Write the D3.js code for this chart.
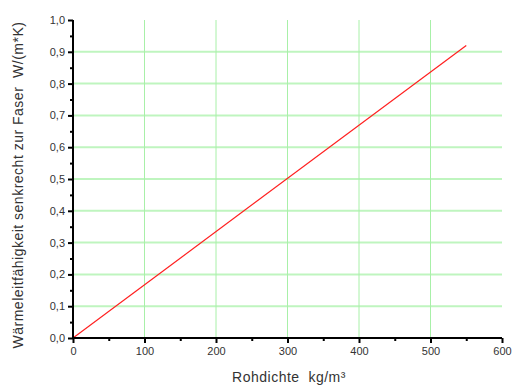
<!DOCTYPE html>
<html><head><meta charset="utf-8">
<script src="https://cdn.jsdelivr.net/npm/d3@7"></script>
<style>body{margin:0;background:#fff}text{font-family:"Liberation Sans",Arial,sans-serif}</style>
</head><body><svg id="c" width="518" height="392"></svg>
<script>
const density = [0, 550];
const conductivity = [0, 0.92];
const xTicks = [0, 100, 200, 300, 400, 500, 600];
const yTicks = [0, 0.1, 0.2, 0.3, 0.4, 0.5, 0.6, 0.7, 0.8, 0.9, 1.0];
const xTitle = "Rohdichte  kg/m³";
const yTitle = "Wärmeleitfähigkeit senkrecht zur Faser  W/(m*K)";

const svg = d3.select("#c");
const x = d3.scaleLinear().domain([0, 600]).range([73, 502]);
const y = d3.scaleLinear().domain([0, 1]).range([338, 20]);
const fmt = d => d.toFixed(1).replace(".", ",");

// grid
svg.append("g").selectAll("line").data(yTicks.filter(d => d > 0 && d < 1)).join("line")
  .attr("x1", x(0)).attr("x2", x(600)).attr("y1", d => y(d)).attr("y2", d => y(d))
  .attr("stroke", "#bff5bf").attr("stroke-width", 2);
svg.append("g").selectAll("line").data(xTicks.filter(d => d > 0 && d < 600)).join("line")
  .attr("y1", y(0)).attr("y2", y(1)).attr("x1", d => x(d)).attr("x2", d => x(d))
  .attr("stroke", "#a8f0a8").attr("stroke-width", 1);

// data line
const pts = density.map((d, i) => [d, conductivity[i]]);
svg.append("path").datum(pts)
  .attr("d", d3.line().x(d => x(d[0])).y(d => y(d[1])))
  .attr("fill", "none").attr("stroke", "#ff2020").attr("stroke-width", 1.2);

// axes
const xAxis = svg.append("g").attr("transform", `translate(0,${y(0)})`)
  .call(d3.axisBottom(x).tickValues(xTicks).tickSize(5).tickPadding(4).tickFormat(d3.format("d")));
const yAxis = svg.append("g").attr("transform", `translate(${x(0)},0)`)
  .call(d3.axisLeft(y).tickValues(yTicks).tickSize(5).tickPadding(3).tickFormat(fmt));
// minor ticks
svg.append("g").attr("transform", `translate(0,${y(0)})`)
  .call(d3.axisBottom(x).tickValues(xTicks.slice(0, -1).map(d => d + 50)).tickSize(3).tickFormat(""))
  .select(".domain").remove();
svg.append("g").attr("transform", `translate(${x(0)},0)`)
  .call(d3.axisLeft(y).tickValues(yTicks.slice(0, -1).map(d => d + 0.05)).tickSize(3).tickFormat(""))
  .select(".domain").remove();

svg.selectAll(".domain").attr("stroke", "#000").attr("stroke-width", 2);
svg.selectAll(".tick line").attr("stroke", "#000").attr("stroke-width", 2);
svg.selectAll(".tick text").attr("fill", "#333").style("font-size", "11px").style("font-family", "'Liberation Sans',Arial,sans-serif");
xAxis.selectAll(".domain").attr("d", `M${x(0)},0H${x(600)}`);
yAxis.selectAll(".domain").attr("d", `M0,${y(0)}V${y(1)}`);

// titles
svg.append("text").attr("x", 289).attr("y", 382).attr("text-anchor", "middle")
  .attr("fill", "#333").style("font-size", "14px").style("letter-spacing", "0.5px")
  .style("white-space", "pre").text(xTitle);
svg.append("text").attr("transform", `translate(23,185) rotate(-90)`).attr("text-anchor", "middle")
  .attr("fill", "#333").style("font-size", "14px").style("letter-spacing", "0.5px")
  .style("white-space", "pre").text(yTitle);
</script></body></html>
